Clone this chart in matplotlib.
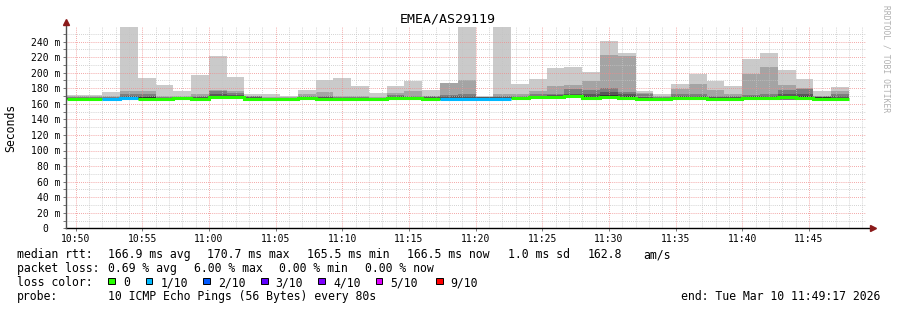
import numpy as np
import matplotlib
matplotlib.use('Agg')
import matplotlib.pyplot as plt
from matplotlib.patches import Rectangle

plt.rcParams['font.family'] = 'DejaVu Sans Mono'

# probe start (minutes after 10:00) and probe interval (80 s)
start_min = 49 + 20 / 60
step_min = 80 / 60

# sorted pings per 80 s step, in ms (10 pings, p1 lowest .. p10 highest)
p1 = [164.9, 164.9, 164.5, 165.0, 164.5, 164.5, 166.0, 164.8, 165.8, 165.8, 164.6,
      164.6, 164.7, 165.8, 164.7, 164.7, 164.6, 164.6, 165.8, 165.8, 164.6, 164.6,
      164.6, 164.6, 164.6, 166.0, 165.7, 166.6, 167.4, 164.8, 166.3, 166.0, 164.7,
      164.6, 166.0, 164.5, 164.7, 164.9, 165.6, 166.0, 165.0, 164.5, 163.4, 164.6]
p2 = [165.2, 165.2, 164.8, 165.8, 165.1, 164.8, 166.2, 165.0, 165.9, 165.9, 164.8,
      164.8, 164.9, 166.1, 165.0, 165.0, 164.8, 164.8, 166.1, 166.1, 164.8, 164.8,
      164.8, 164.8, 164.8, 166.2, 165.9, 166.8, 167.7, 165.0, 166.5, 166.2, 164.9,
      164.8, 166.3, 164.7, 164.9, 165.1, 165.8, 166.3, 165.3, 164.8, 163.5, 164.8]
p3 = [165.5, 165.5, 165.0, 166.3, 165.4, 165.0, 166.5, 165.2, 166.0, 166.0, 165.0,
      165.0, 165.1, 166.4, 165.2, 165.2, 165.0, 165.0, 166.4, 166.4, 165.0, 165.0,
      165.0, 165.0, 165.0, 166.5, 166.0, 167.0, 167.9, 165.2, 166.7, 166.4, 165.1,
      165.0, 166.5, 164.8, 165.1, 165.3, 166.0, 166.5, 165.5, 165.0, 163.6, 165.0]
p4 = [165.8, 165.8, 165.3, 166.8, 165.8, 165.3, 166.8, 165.5, 166.0, 166.0, 165.2,
      165.2, 165.3, 166.7, 165.5, 165.5, 165.2, 165.2, 166.7, 166.6, 165.2, 165.2,
      165.2, 165.2, 165.2, 166.7, 166.1, 167.2, 168.0, 165.5, 166.9, 166.6, 165.3,
      165.2, 166.8, 164.9, 165.3, 165.5, 166.3, 166.8, 165.8, 165.2, 163.8, 165.2]
p5 = [166.2, 166.2, 165.6, 167.2, 166.2, 165.6, 167.0, 165.8, 166.1, 166.1, 165.5,
      165.5, 165.6, 167.0, 165.8, 165.8, 165.5, 165.5, 167.0, 166.8, 165.5, 165.5,
      165.5, 165.5, 165.5, 166.9, 166.3, 167.4, 168.2, 166.0, 167.0, 166.8, 165.5,
      165.5, 167.0, 165.0, 165.5, 165.8, 166.5, 167.0, 166.0, 165.4, 163.9, 165.5]
p6 = [167.0, 167.0, 166.5, 169.0, 169.0, 166.8, 167.7, 167.2, 170.0, 169.8, 167.3,
      166.8, 166.5, 168.0, 167.3, 167.0, 166.7, 166.5, 168.2, 168.6, 167.3, 168.0,
      168.0, 167.8, 168.0, 168.5, 169.5, 170.0, 171.8, 170.0, 171.0, 169.5, 167.5,
      167.0, 169.0, 168.8, 167.5, 167.3, 168.8, 169.3, 170.0, 170.0, 168.3, 167.5]
p7 = [167.8, 167.8, 168.0, 170.5, 170.3, 167.5, 168.2, 168.5, 172.0, 171.0, 168.5,
      167.3, 167.2, 169.0, 168.5, 168.0, 167.5, 167.0, 169.5, 169.3, 168.5, 169.5,
      170.0, 169.0, 169.0, 169.3, 170.5, 171.0, 173.0, 172.0, 175.0, 172.0, 169.0,
      168.0, 170.0, 170.0, 168.5, 168.3, 169.8, 170.5, 172.5, 173.0, 169.0, 169.5]
p8 = [168.5, 168.5, 169.0, 172.0, 172.0, 168.5, 168.8, 169.5, 176.0, 174.3, 169.5,
      168.0, 167.8, 170.5, 170.5, 169.0, 168.3, 167.8, 171.0, 170.3, 169.5, 171.3,
      172.0, 169.2, 170.0, 170.0, 172.0, 172.5, 179.0, 177.2, 179.8, 174.6, 172.0,
      169.0, 172.0, 172.0, 170.5, 169.5, 171.0, 172.0, 177.6, 178.5, 169.8, 172.0]
p9 = [169.5, 169.5, 170.5, 176.3, 176.3, 169.8, 169.5, 172.0, 177.6, 176.0, 170.0,
      169.0, 168.5, 173.0, 174.6, 170.3, 169.5, 168.5, 173.3, 176.0, 170.0, 186.7,
      190.0, 169.3, 172.0, 172.0, 176.3, 182.4, 184.0, 189.0, 222.4, 221.0, 173.8,
      170.3, 178.5, 185.4, 177.6, 172.0, 198.3, 207.3, 183.7, 180.2, 170.3, 176.3]
p10 = [170.8, 170.8, 175.0, 270.0, 192.7, 183.7, 176.0, 197.0, 221.5, 195.0, 172.0,
       172.0, 170.3, 177.6, 190.0, 192.7, 182.4, 173.3, 182.4, 188.8, 177.6, 186.7,
       270.0, 169.5, 270.0, 185.0, 191.4, 205.6, 207.3, 200.4, 240.4, 225.4, 176.3,
       172.0, 185.4, 198.3, 189.2, 182.4, 217.2, 225.4, 203.0, 191.4, 176.3, 181.0]

median = [166.5, 166.5, 166.0, 168.0, 166.7, 166.0, 167.3, 166.5, 168.4, 168.4, 166.0,
          166.0, 166.0, 167.5, 166.3, 166.3, 166.0, 166.0, 167.5, 167.5, 166.0, 166.0,
          166.0, 166.0, 166.0, 167.7, 168.6, 168.6, 170.5, 168.0, 168.6, 167.7, 166.2,
          166.0, 168.0, 167.3, 166.2, 166.5, 167.3, 168.0, 168.4, 167.7, 166.2, 166.2]
# lost pings out of 10
loss = [0, 0, 1, 1, 0, 0, 0, 0, 0, 0, 0, 0, 0, 0, 0, 0, 0, 0, 0, 0, 0, 1,
        1, 1, 1, 0, 0, 0, 0, 0, 0, 0, 0, 0, 0, 0, 0, 0, 0, 0, 0, 0, 0, 0]

loss_levels = [0, 1, 2, 3, 4, 5, 9]
loss_labels = ['0', '1/10', '2/10', '3/10', '4/10', '5/10', '9/10']
loss_colors = ['#26ff00', '#00b8ff', '#0059ff', '#5e00ff', '#7e00ff', '#dd00ff', '#ff0000']
smoke_colors = ['#cacaca', '#a4a4a4', '#7e7e7e', '#585858', '#323232']

W, H = 897, 310
fig = plt.figure(figsize=(W / 100, H / 100), dpi=100)
fig.patch.set_facecolor('white')

# plot area in pixels
left, right, bottom, top = 66, 866, 228.3, 26.7
ax = fig.add_axes([left / W, 1 - bottom / H, (right - left) / W, (bottom - top) / H])
ax.set_facecolor('white')

n = len(median)
edges = start_min + step_min * np.arange(n + 1)

# smoke: band i goes from i-th lowest to i-th highest ping
pings = [p1, p2, p3, p4, p5, p6, p7, p8, p9, p10]
for i in range(5):
    lo = np.array(pings[i])
    hi = np.array(pings[9 - i])
    ax.fill_between(edges, np.append(lo, lo[-1]), np.append(hi, hi[-1]),
                    step='post', color=smoke_colors[i], lw=0, zorder=1)

# median line coloured by loss, one step line per run of same colour
k = 0
while k < n:
    j = k
    while j + 1 < n and loss[j + 1] == loss[k]:
        j += 1
    ys = median[k:j + 1] + [median[j]]
    ax.plot(edges[k:j + 2], ys, drawstyle='steps-post',
            color=loss_colors[loss_levels.index(loss[k])], lw=2.2,
            solid_capstyle='butt', solid_joinstyle='miter', zorder=3)
    k = j + 1

t_end = 49 + 17 / 60 + 60
ax.set_xlim(t_end - 60, t_end)
ax.set_ylim(0, (bottom - top) / 0.778)

xt = list(range(50, 106, 5))
ax.set_xticks(xt)
ax.set_xticklabels(['%d:%02d' % (10 + m // 60, m % 60) for m in xt], fontsize=7)
ax.set_xticks(np.arange(50, 110, 1), minor=True)
yt = list(range(0, 241, 20))
ax.set_yticks(yt)
ax.set_yticklabels(['%d m' % v if v else '0  ' for v in yt], fontsize=7)
ax.set_yticks(np.arange(0, 251, 10), minor=True)

ax.grid(which='minor', color='#c4c4c4', lw=0.6, linestyle=(0, (1, 1.5)), zorder=2)
ax.grid(which='major', color='#f08a8a', lw=0.6, linestyle=(0, (1, 1.5)), zorder=2)
ax.set_axisbelow(False)
ax.tick_params(axis='both', which='both', length=2, width=0.6, color='#606060', pad=2)
ax.tick_params(axis='x', which='minor', length=0)

for s in ax.spines.values():
    s.set_visible(False)
ax.plot([0, 1.009], [0, 0], transform=ax.transAxes, clip_on=False, color='black', lw=1, zorder=4)
ax.plot([0, 0], [0, 1.025], transform=ax.transAxes, clip_on=False, color='#505050', lw=1, zorder=4)
ax.plot([1.009], [0], marker='>', ms=4, color='#8b1a1a', transform=ax.transAxes, clip_on=False, zorder=5)
ax.plot([0], [1.025], marker='^', ms=4, color='#8b1a1a', transform=ax.transAxes, clip_on=False, zorder=5)

def px(x, y):
    return x / W, 1 - y / H

fig.text(*px(448, 23), 'EMEA/AS29119', ha='center', va='baseline', fontsize=9.5)
fig.text(*px(11, 128), 'Seconds', rotation=90, ha='center', va='center', fontsize=8.3)
fig.text(*px(886, 5), 'RRDTOOL / TOBI OETIKER', rotation=270, ha='center', va='top',
         fontsize=5.8, color='#b0b0b0')

fs = 8.3
rows = [
    (258, [(16.7, 'median rtt:'), (107.7, '166.9 ms avg'), (207.3, '170.7 ms max'),
           (307, '165.5 ms min'), (407, '166.5 ms now'), (508.3, '1.0 ms sd'),
           (587.3, '162.8'), (643.3, 'am/s')]),
    (272, [(16.7, 'packet loss:'), (107.7, '0.69 % avg'), (193.5, '6.00 % max'),
           (279.3, '0.00 % min'), (365, '0.00 % now')]),
    (286, [(16.7, 'loss color:')]),
    (300, [(16.7, 'probe:'), (107.7, '10 ICMP Echo Pings (56 Bytes) every 80s')]),
]
for yb, items in rows:
    for x, s in items:
        fig.text(*px(x, yb), s, ha='left', va='baseline', fontsize=fs)
fig.text(*px(880, 300), 'end: Tue Mar 10 11:49:17 2026', ha='right', va='baseline', fontsize=fs)

sq_x = [108.3, 145.7, 203.3, 261, 318.3, 375.7, 436]
for x, lab, c in zip(sq_x, loss_labels, loss_colors):
    fig.add_artist(Rectangle(px(x, 284.3), 6.7 / W, 6.7 / H, transform=fig.transFigure,
                             facecolor=c, edgecolor='black', lw=0.7))
    fig.text(*px(x + 14.7, 286), lab, ha='left', va='baseline', fontsize=fs)

fig.savefig('out.png', dpi=100, facecolor='white')
